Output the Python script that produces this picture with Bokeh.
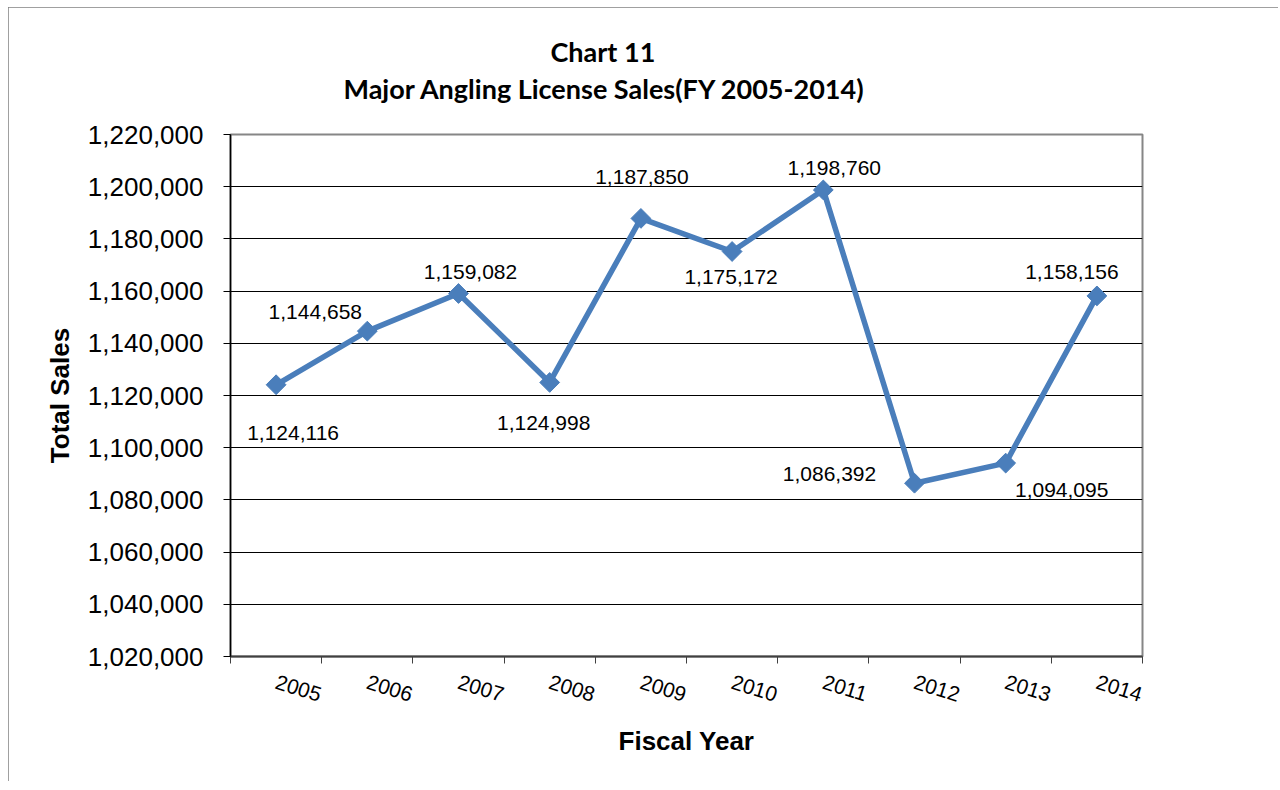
import math
from bokeh.plotting import figure
from bokeh.models import (ColumnDataSource, FixedTicker, NumeralTickFormatter,
                          LabelSet, Title, Range1d)
from bokeh.core.properties import value
from bokeh.embed import file_html
from bokeh.resources import INLINE

# ---- data ----
years = ["2005", "2006", "2007", "2008", "2009", "2010", "2011", "2012", "2013", "2014"]
sales = [1124116, 1144658, 1159082, 1124998, 1187850, 1175172, 1198760, 1086392, 1094095, 1158156]
y_ticks = [1020000, 1040000, 1060000, 1080000, 1100000, 1120000, 1140000,
           1160000, 1180000, 1200000, 1220000]
title_top = "Chart 11"
title_main = "Major Angling License Sales(FY 2005-2014)"

# data-label placement (screen pixel offsets from each point)
label_dx = [17, -52, 12, -6, 1, -1, 11, -85, 56, -25]
label_dy = [-48, 19, 21, -41, 41, -25, 22, 9, -27, 24]

n = len(years)
xs = [i + 0.5 for i in range(n)]
source = ColumnDataSource(dict(
    x=xs, y=sales, text=[f"{v:,}" for v in sales],
    dx=label_dx, dy=label_dy,
))

ARIAL = "Liberation Sans"
BLUE = "#4A7EBB"

p = figure(width=1270, height=774, output_backend="svg", toolbar_location=None,
           x_range=Range1d(0, n), y_range=Range1d(y_ticks[0], y_ticks[-1]),
           min_border_left=222, min_border_right=136, min_border_top=127,
           min_border_bottom=125, title=None)
p.styles = {"margin-left": "8px", "margin-top": "7px",
            "outline": "1px solid #808080", "outline-offset": "-1px"}
p.background_fill_color = "white"
p.border_fill_color = "white"
p.outline_line_color = "#868686"
p.outline_line_width = 2

# y axis
p.yaxis.ticker = FixedTicker(ticks=y_ticks, minor_ticks=[])
p.yaxis.formatter = NumeralTickFormatter(format="0,0")
p.yaxis.major_label_text_font = ARIAL
p.yaxis.major_label_text_font_size = "26px"
p.yaxis.major_label_text_color = "black"
p.yaxis.major_tick_out = 7
p.yaxis.major_tick_in = 0
p.yaxis.major_label_standoff = 20
p.yaxis.axis_line_color = "black"
p.yaxis.axis_line_width = 1.5
p.yaxis.major_tick_line_color = "black"
p.yaxis.axis_label = "Total Sales"
p.yaxis.axis_label_text_font = ARIAL
p.yaxis.axis_label_text_font_size = "26px"
p.yaxis.axis_label_text_font_style = "bold"
p.yaxis.axis_label_text_color = "black"
p.yaxis.axis_label_standoff = 10

# x axis: labels at category centres, tick marks at category boundaries
p.xaxis.ticker = FixedTicker(ticks=xs, minor_ticks=list(range(n + 1)))
p.xaxis.major_label_overrides = {x: y for x, y in zip(xs, years)}
p.xaxis.major_tick_line_color = None
p.xaxis.minor_tick_out = 7
p.xaxis.minor_tick_in = 0
p.xaxis.minor_tick_line_color = "#404040"
p.xaxis.axis_line_color = "#404040"
p.xaxis.axis_line_width = 2
p.xaxis.major_label_orientation = -0.30
p.xaxis.major_label_text_font = ARIAL
p.xaxis.major_label_text_font_size = "21px"
p.xaxis.major_label_text_color = "black"
p.xaxis.major_label_standoff = 18
p.xaxis.axis_label = "Fiscal Year"
p.xaxis.axis_label_text_font = ARIAL
p.xaxis.axis_label_text_font_size = "26px"
p.xaxis.axis_label_text_font_style = "bold"
p.xaxis.axis_label_text_color = "black"
p.xaxis.axis_label_standoff = 14

p.xgrid.grid_line_color = None
p.ygrid.ticker = FixedTicker(ticks=y_ticks)
p.ygrid.grid_line_color = "black"
p.ygrid.grid_line_width = 1

# series
p.line("x", "y", source=source, line_color=BLUE, line_width=5.5)
p.scatter("x", "y", source=source, marker="square", angle=math.pi / 4,
          size=14, fill_color=BLUE, line_color=BLUE)

labels = LabelSet(x="x", y="y", text="text", x_offset="dx", y_offset="dy",
                  source=source, text_align="center", text_baseline="middle",
                  text_font=value(ARIAL), text_font_size="21px", text_color="black")
p.add_layout(labels)

# titles: spacer (closest to frame), main line, then top line
p.add_layout(Title(text=" ", text_font_size="1px", standoff=27), "above")
p.add_layout(Title(text=title_main, align="left", offset=113, text_font="Lato",
                   text_font_size="27px", text_font_style="bold",
                   text_color="black", standoff=0), "above")
p.add_layout(Title(text=title_top, align="left", offset=320, text_font="Lato",
                   text_font_size="27px", text_font_style="bold",
                   text_color="black", standoff=3), "above")

open("out.html", "w").write(file_html(p, INLINE))
